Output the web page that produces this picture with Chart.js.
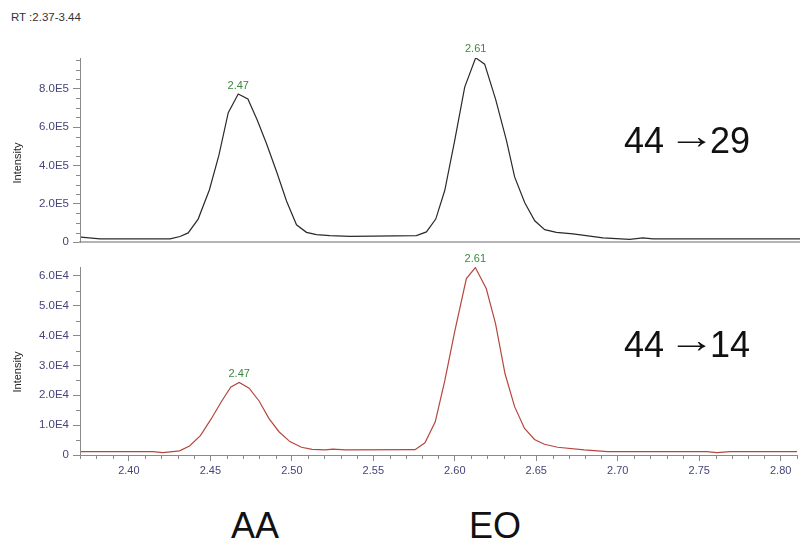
<!DOCTYPE html>
<html lang="en">
<head>
  <meta charset="UTF-8">
  <title>RT 2.37-3.44 – 44→29 / 44→14</title>
  <script src="https://cdn.jsdelivr.net/npm/chart.js"></script>
  <style>
    body { margin: 0; background: #fff; font-family: "Liberation Sans", Arial, sans-serif; }
    #wrap { position: relative; width: 800px; height: 540px; overflow: hidden; }
    canvas { position: absolute; left: 0; }
    .txt { position: absolute; white-space: nowrap; line-height: 1; color: #111; }
    .ylab { position: absolute; font-size: 11px; color: #222; transform: translate(-50%, -50%) rotate(-90deg); white-space: nowrap; }
    .big { font-size: 36px; line-height: 36px; }
    .arr { display: inline-block; position: relative; top: -5px; transform: scaleX(1.3); }
  </style>
</head>
<body>
<div id="wrap">
  <div class="txt" style="left:11px; top:12px; font-size:11.5px; color:#333;">RT :2.37-3.44</div>
  <canvas id="topChart" width="800" height="253" style="top:0"></canvas>
  <canvas id="bottomChart" width="800" height="235" style="top:250px"></canvas>
  <div class="ylab" style="left:17px; top:163px;">Intensity</div>
  <div class="ylab" style="left:17px; top:372px;">Intensity</div>
  <div class="txt big" style="left:624px; top:123px;">44 <span class="arr">→</span>29</div>
  <div class="txt big" style="left:624px; top:327px;">44 <span class="arr">→</span>14</div>
  <div class="txt big" style="left:231px; top:508px;">AA</div>
  <div class="txt big" style="left:469px; top:508px;">EO</div>
</div>
<script>
  // 44 -> 29 trace (black), retention time in min / intensity
  const topRt = [2.3706, 2.3822, 2.4250, 2.4311, 2.4361, 2.4422, 2.4491, 2.4549, 2.4606, 2.4667,
                 2.4726, 2.4783, 2.4840, 2.4901, 2.4962, 2.5023, 2.5084, 2.5145, 2.5227, 2.5349,
                 2.5491, 2.5756, 2.5817, 2.5874, 2.5929, 2.5990, 2.6051, 2.6118, 2.6173, 2.6240,
                 2.6306, 2.6356, 2.6418, 2.6479, 2.6540, 2.6611, 2.6713, 2.6896, 2.7059, 2.7140,
                 2.7201, 2.8100];
  const topIntensity = [26000, 17000, 17000, 29000, 48000, 120000, 273000, 453000, 675000, 772000,
                        746000, 637000, 513000, 368000, 214000, 90000, 51000, 39000, 34000, 30000,
                        31000, 34000, 53000, 120000, 269000, 530000, 808000, 961000, 928000, 744000,
                        530000, 340000, 205000, 111000, 65000, 51000, 43000, 22000, 14000, 22000,
                        17000, 17000];
  const topPeaks = ['2.47', '2.61'];

  // 44 -> 14 trace (red)
  const bottomRt = [2.3706, 2.4148, 2.4209, 2.4311, 2.4372, 2.4439, 2.4504, 2.4570, 2.4626, 2.4677,
                    2.4738, 2.4799, 2.4860, 2.4921, 2.4988, 2.5059, 2.5125, 2.5207, 2.5251, 2.5329,
                    2.5756, 2.5817, 2.5880, 2.5939, 2.6000, 2.6071, 2.6126, 2.6193, 2.6250, 2.6308,
                    2.6367, 2.6428, 2.6489, 2.6550, 2.6631, 2.6794, 2.6937, 2.7547, 2.7608, 2.7690,
                    2.8100];
  const bottomIntensity = [1100, 1100, 800, 1400, 3000, 6500, 12000, 18100, 22800, 24300,
                           22400, 18100, 12200, 7800, 4500, 2600, 1900, 1700, 2000, 1700,
                           1800, 4100, 11100, 25000, 41500, 59100, 62800, 55800, 44000, 27300,
                           16200, 8900, 5200, 3600, 2600, 1700, 1100, 1100, 800, 1100,
                           1100];
  const bottomPeaks = ['2.47', '2.61'];

  const FONT = '"Liberation Sans", Arial, sans-serif';
  const TICK_TXT = '#45457a';
  const AXIS = '#8a8a8a';

  function expLabel(v, exp) {
    return v === 0 ? '0' : (v / Math.pow(10, exp)).toFixed(1) + 'E' + exp;
  }

  // short ticks for the unlabeled steps
  const minorTicks = {
    id: 'minorTicks',
    afterDraw(chart) {
      const ctx = chart.ctx;
      ctx.save();
      ctx.strokeStyle = AXIS;
      ctx.lineWidth = 1;
      ['x', 'y'].forEach(id => {
        const s = chart.scales[id];
        if (!s.options.ticks.display) return;
        s.ticks.forEach(t => {
          if (t.label !== '') return;
          const p = Math.round(s.getPixelForValue(t.value)) + 0.5;
          ctx.beginPath();
          if (s.isHorizontal()) { ctx.moveTo(p, s.top); ctx.lineTo(p, s.top + 4); }
          else { ctx.moveTo(s.right - 4, p); ctx.lineTo(s.right, p); }
          ctx.stroke();
        });
      });
      ctx.restore();
    }
  };

  // retention time written above each peak
  const peakLabels = {
    id: 'peakLabels',
    afterDatasetsDraw(chart, args, opts) {
      const {ctx, scales: {x, y}} = chart;
      const pts = chart.data.datasets[0].data;
      ctx.save();
      ctx.font = '11px ' + FONT;
      ctx.fillStyle = '#3b8a3b';
      ctx.textAlign = 'center';
      ctx.textBaseline = 'bottom';
      opts.labels.forEach(lbl => {
        const target = parseFloat(lbl);
        let best = null;
        pts.forEach(p => {
          if (Math.abs(p.x - target) < 0.01 && (!best || p.y > best.y)) best = p;
        });
        if (best) ctx.fillText(lbl, x.getPixelForValue(best.x), y.getPixelForValue(best.y) - 3);
      });
      ctx.restore();
    }
  };

  function makeChart(id, rt, intensity, cfg) {
    const majorTick = c => (c.tick && c.tick.label !== '') ? AXIS : 'rgba(0,0,0,0)';
    return new Chart(document.getElementById(id), {
      type: 'line',
      data: {
        datasets: [{
          data: rt.map((x, i) => ({x: x, y: intensity[i]})),
          borderColor: cfg.color,
          borderWidth: 1.2,
          pointRadius: 0,
          tension: 0,
          fill: false
        }]
      },
      options: {
        responsive: false,
        animation: false,
        layout: { padding: { top: cfg.padTop, left: 0, right: 0, bottom: 0 } },
        plugins: {
          legend: { display: false },
          tooltip: { enabled: false },
          peakLabels: { labels: cfg.peaks }
        },
        scales: {
          x: {
            type: 'linear',
            min: 2.37,
            max: 2.81,
            afterFit: s => { s.height = cfg.xHeight; },
            border: { color: cfg.showX ? AXIS : '#b4b4b4', width: cfg.showX ? 1 : 2 },
            grid: { display: cfg.showX, drawOnChartArea: false, tickLength: 6, tickColor: majorTick },
            ticks: {
              display: cfg.showX,
              stepSize: 0.01,
              autoSkip: false,
              maxRotation: 0,
              padding: 3,
              color: TICK_TXT,
              font: { family: FONT, size: 11 },
              callback: v => Math.round(v * 100) % 5 === 0 ? v.toFixed(2) : ''
            }
          },
          y: {
            min: 0,
            max: cfg.yMax,
            afterFit: s => { s.width = 80; },
            // fixed step ticks (Chart.js would stretch the step to fit max)
            afterBuildTicks: s => {
              const t = [];
              for (let k = 0; k * cfg.yStep <= cfg.yMax; k++) t.push({value: k * cfg.yStep});
              s.ticks = t;
            },
            border: { color: AXIS, width: 1 },
            grid: { drawOnChartArea: false, tickLength: 7, tickColor: majorTick },
            ticks: {
              autoSkip: false,
              padding: 4,
              color: TICK_TXT,
              font: { family: FONT, size: 11.5 },
              callback: v => Math.round(v / cfg.yStep) % cfg.every === 0 ? expLabel(v, cfg.exp) : ''
            }
          }
        }
      },
      plugins: [minorTicks, peakLabels]
    });
  }

  makeChart('topChart', topRt, topIntensity, {
    color: '#2a2a2a', yMax: 960000, yStep: 50000, every: 4, exp: 5,
    padTop: 58, xHeight: 8, showX: false, peaks: topPeaks
  });

  makeChart('bottomChart', bottomRt, bottomIntensity, {
    color: '#b5473e', yMax: 63000, yStep: 5000, every: 2, exp: 4,
    padTop: 17, xHeight: 30, showX: true, peaks: bottomPeaks
  });
</script>
</body>
</html>
